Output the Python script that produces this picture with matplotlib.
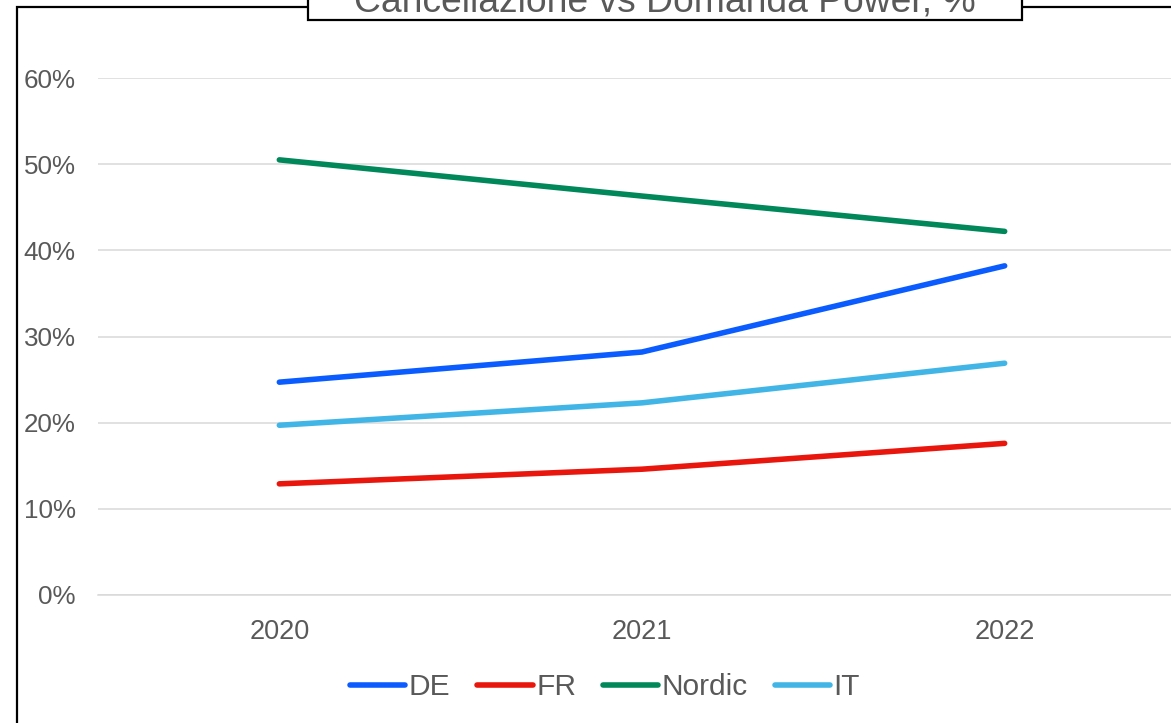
import matplotlib.pyplot as plt
from matplotlib.patches import Rectangle
from matplotlib.ticker import PercentFormatter

# Data
YEARS = ['2020', '2021', '2022']
DE = [24.7, 28.2, 38.2]
FR = [12.9, 14.6, 17.6]
NORDIC = [50.5, 46.3, 42.2]
IT = [19.7, 22.3, 26.9]
SERIES_NAMES = ['DE', 'FR', 'Nordic', 'IT']
COLORS = ['#0B5CFF', '#E8160C', '#00875A', '#41B6E6']
TITLE = 'Cancellazione vs Domanda Power, %'

TEXT_COLOR = '#595959'
W, H = 1171, 723

plt.rcParams['font.family'] = ['Liberation Sans', 'DejaVu Sans']

fig = plt.figure(figsize=(W / 100, H / 100), dpi=100)
ax = fig.add_axes([98 / W, 1 - 595 / H, (1186 - 98) / W, (595 - 78) / H])

x = list(range(len(YEARS)))
for name, vals, col in zip(SERIES_NAMES, [DE, FR, NORDIC, IT], COLORS):
    ax.plot(x, vals, color=col, lw=4, solid_capstyle='round', label=name, zorder=3)

ax.set_xlim(-0.5, 2.5)
ax.set_ylim(0, 60)
ax.set_yticks(range(0, 61, 10))
ax.yaxis.set_major_formatter(PercentFormatter(decimals=0))
ax.set_xticks(x)
# Excel draws the year labels with wider letter spacing
ax.set_xticklabels(YEARS)
for lbl in ax.get_xticklabels():
    lbl.set_fontstretch('expanded')
ax.grid(axis='y', color='#D9D9D9', lw=1.1)
ax.set_axisbelow(True)
for s in ax.spines.values():
    s.set_visible(False)
ax.spines['bottom'].set_visible(True)
ax.spines['bottom'].set_color('#D9D9D9')
ax.spines['bottom'].set_linewidth(1.1)
ax.tick_params(axis='y', length=0, pad=16, labelsize=18.7, labelcolor=TEXT_COLOR)
ax.tick_params(axis='x', length=0, pad=17, labelsize=19.5, labelcolor=TEXT_COLOR)

leg = fig.legend(loc='center', bbox_to_anchor=(605 / W, 1 - 687 / H), ncol=4,
                 frameon=False, fontsize=21.5, handlelength=1.85,
                 handletextpad=0.12, columnspacing=0.9)
for t in leg.get_texts():
    t.set_color(TEXT_COLOR)

# outer chart border (cropped on right and bottom)
fig.patches.append(Rectangle((17 / W, -0.1), 1.2, 1 - 7 / H + 0.1,
                             transform=fig.transFigure, fill=False,
                             edgecolor='black', lw=1.6, zorder=5))
# title box (cropped at top, as in the source image)
fig.patches.append(Rectangle((308 / W, 1 - 20 / H), (1022 - 308) / W, 0.1,
                             transform=fig.transFigure, facecolor='white',
                             edgecolor='black', lw=1.6, zorder=6))
fig.text(665 / W, 1 - 11.5 / H, TITLE, ha='center', va='baseline',
         fontsize=26.8, color=TEXT_COLOR, zorder=7)

fig.savefig('out.png', dpi=100)
